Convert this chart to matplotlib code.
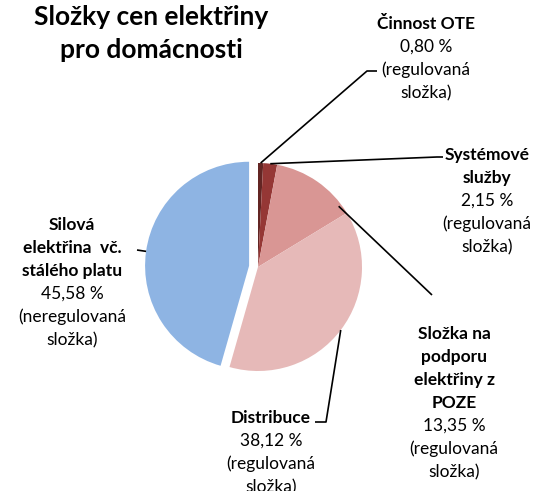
import numpy as np
import matplotlib
matplotlib.use("Agg")
import matplotlib.pyplot as plt

# ---- data ----
title = "Složky cen elektřiny\npro domácnosti"
names = ["Činnost OTE", "Systémové\nslužby", "Složka na\npodporu\nelektřiny z\nPOZE",
         "Distribuce", "Silová\nelektřina  vč.\nstálého platu"]
values = [0.80, 2.15, 13.35, 38.12, 45.58]
notes = ["(regulovaná\nsložka)", "(regulovaná\nsložka)", "(regulovaná\nsložka)",
         "(regulovaná\nsložka)", "(neregulovaná\nsložka)"]
colors = ["#632523", "#953735", "#D99694", "#E6B9B8", "#8EB4E3"]

W, H = 534, 491
FONT = "Lato"
fig = plt.figure(figsize=(W / 100, H / 100), dpi=100)
ax = fig.add_axes([0, 0, 1, 1])
ax.set_xlim(0, W)
ax.set_ylim(0, H)
ax.set_aspect("equal")
ax.axis("off")

def Y(y):
    return H - y

cx, cy, R = 258, 267, 104
explode = [0, 0, 0, 0, 9]
ax.pie(values, colors=colors, startangle=90, counterclock=False,
       center=(cx, Y(cy)), radius=R, explode=explode,
       wedgeprops=dict(linewidth=0), frame=True)
ax.set_xlim(0, W)
ax.set_ylim(0, H)
ax.axis("off")

# leader anchors: angle (deg clockwise from top)
cum = np.cumsum([0] + values)
mids = [(cum[i] + cum[i + 1]) / 2 / 100 * 360 for i in range(len(values))]
anchor_ang = list(mids)
anchor_ang[2] = 53.0
anchor_r = [R, R, R - 3, R, R]
ends = [[(367, 71), (377, 71)],
        [(437, 157), (443, 157)],
        [(432, 295)],
        [(326, 422), (315, 422)],
        [(137, 250)]]
for i in range(len(values)):
    a = np.deg2rad(anchor_ang[i])
    ox, oy = cx, cy
    if explode[i]:
        ox += explode[i] * np.sin(a)
        oy -= explode[i] * np.cos(a)
    sx = ox + anchor_r[i] * np.sin(a)
    sy = oy - anchor_r[i] * np.cos(a)
    xs = [sx] + [p[0] for p in ends[i]]
    ys = [Y(sy)] + [Y(p[1]) for p in ends[i]]
    ax.plot(xs, ys, color="black", lw=1.2, solid_capstyle="butt")

# labels
lab_pos = [(426, 23), (487, 154), (454, 333), (271, 417), (72, 224)]
LS = 23.0
FS = 12.5
for i in range(len(values)):
    x0, y0 = lab_pos[i]
    bold_lines = names[i].split("\n")
    reg_lines = [f"{values[i]:.2f} %".replace(".", ",")] + notes[i].split("\n")
    k = 0
    for ln in bold_lines:
        ax.text(x0, Y(y0 + k * LS + 6), ln, ha="center", va="baseline",
                fontsize=FS, fontweight="bold", family=FONT)
        k += 1
    for ln in reg_lines:
        ax.text(x0, Y(y0 + k * LS + 6), ln, ha="center", va="baseline",
                fontsize=FS, family=FONT)
        k += 1

# title
for j, ln in enumerate(title.split("\n")):
    ax.text(151, Y(25 + j * 33), ln, ha="center", va="baseline",
            fontsize=19, fontweight="bold", family=FONT)

fig.savefig("out.png", dpi=100)
